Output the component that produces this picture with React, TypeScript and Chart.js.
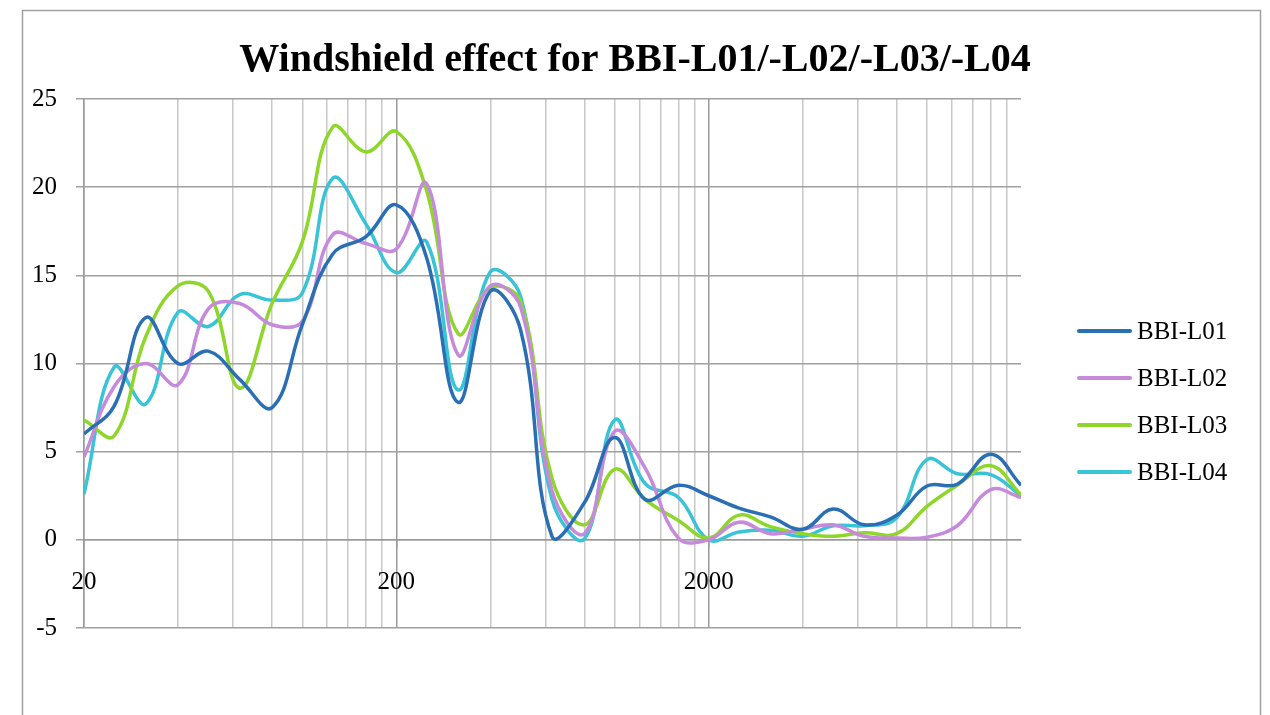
import React, { useEffect, useRef } from 'react';
import { Chart, registerables } from 'chart.js';

Chart.register(...registerables);

const chartTitle = 'Windshield effect for BBI-L01/-L02/-L03/-L04';

const frequencies = [20, 25, 31.5, 40, 50, 63, 80, 100, 125, 160, 200, 250, 315, 400, 500, 630, 800, 1000, 1250, 1600, 2000, 2500, 3150, 4000, 5000, 6300, 8000, 10000, 12500, 16000, 20000];

const bbiL01 = [6.0, 7.6, 12.6, 10.0, 10.7, 9.1, 7.5, 12.2, 16.2, 17.2, 19.0, 16.0, 7.8, 14.1, 11.9, 0.2, 2.1, 5.8, 2.3, 3.1, 2.5, 1.8, 1.3, 0.6, 1.75, 0.85, 1.4, 3.05, 3.15, 4.85, 3.1];
const bbiL02 = [4.7, 8.7, 10.0, 8.8, 13.1, 13.4, 12.2, 12.4, 17.3, 16.8, 16.5, 20.2, 10.5, 14.4, 13.2, 2.8, 0.35, 6.15, 4.1, 0.1, 0.0, 1.0, 0.35, 0.6, 0.85, 0.2, 0.1, 0.15, 0.8, 2.85, 2.4];
const bbiL03 = [6.8, 5.9, 11.5, 14.4, 14.1, 8.6, 13.4, 16.9, 23.4, 22.0, 23.15, 19.8, 11.7, 14.3, 13.5, 3.5, 0.85, 4.0, 2.3, 1.1, 0.1, 1.4, 0.75, 0.35, 0.2, 0.4, 0.35, 1.9, 3.1, 4.2, 2.55];
const bbiL04 = [2.6, 9.8, 7.7, 12.9, 12.1, 13.9, 13.6, 14.0, 20.5, 17.9, 15.15, 16.9, 8.5, 15.2, 13.8, 2.3, 0.05, 6.8, 3.2, 2.4, 0.0, 0.45, 0.55, 0.2, 0.8, 0.8, 1.25, 4.55, 3.75, 3.7, 2.5];

const seriesNames = ['BBI-L01', 'BBI-L02', 'BBI-L03', 'BBI-L04'];
const seriesValues = [bbiL01, bbiL02, bbiL03, bbiL04];
const seriesColors = ['#2A6FB4', '#C68ADB', '#8ED62A', '#38C3D7'];

// vertical gridline positions (Excel-style log minor grid) and labelled ticks
const xGridTicks = [20, 40, 60, 80, 100, 120, 140, 160, 180, 200, 400, 600, 800, 1000, 1200, 1400, 1600, 1800, 2000, 4000, 6000, 8000, 10000, 12000, 14000, 16000, 18000, 20000];
const xLabelTicks = [20, 200, 2000];
const xMajorTicks = [20, 200, 2000];
const yMin = -5;
const yMax = 25;
const yStep = 5;

const FONT = '"Liberation Serif", "Times New Roman", serif';

export default function App() {
  const ref = useRef<HTMLCanvasElement>(null);

  useEffect(() => {
    const canvas = ref.current;
    if (!canvas) return;

    const decor = {
      id: 'excelDecor',
      beforeDraw(chart: any) {
        const ctx = chart.ctx as CanvasRenderingContext2D;
        ctx.save();
        ctx.fillStyle = '#ffffff';
        ctx.fillRect(0, 0, chart.width, chart.height);
        ctx.strokeStyle = '#a0a0a0';
        ctx.lineWidth = 1.5;
        ctx.strokeRect(22.5, 10.5, 1238, 800);
        ctx.restore();
      },
      afterDraw(chart: any) {
        const ctx = chart.ctx as CanvasRenderingContext2D;
        ctx.save();
        ctx.fillStyle = '#000000';
        ctx.font = `bold 40px ${FONT}`;
        ctx.textAlign = 'center';
        ctx.textBaseline = 'alphabetic';
        ctx.fillText(chartTitle, 635, 71);

        const ds = chart.data.datasets;
        ds.forEach((d: any, i: number) => {
          const y = 331 + i * 47;
          ctx.strokeStyle = d.borderColor;
          ctx.lineWidth = 4;
          ctx.lineCap = 'round';
          ctx.beginPath();
          ctx.moveTo(1079, y);
          ctx.lineTo(1130, y);
          ctx.stroke();
          ctx.fillStyle = '#000000';
          ctx.font = `25px ${FONT}`;
          ctx.textAlign = 'left';
          ctx.textBaseline = 'middle';
          ctx.fillText(d.label, 1137, y + 1);
        });
        ctx.restore();
      },
    };

    const chart = new Chart(canvas, {
      type: 'line',
      data: {
        datasets: seriesValues.map((vals, i) => ({
          label: seriesNames[i],
          data: frequencies.map((f, j) => ({ x: f, y: vals[j] })),
          borderColor: seriesColors[i],
          backgroundColor: seriesColors[i],
          borderWidth: 3.5,
          pointRadius: 0,
          tension: 0.4,
          fill: false,
        })),
      },
      options: {
        animation: false,
        responsive: false,
        layout: { padding: { left: 0, top: 99, right: 249, bottom: 87 } },
        plugins: {
          legend: { display: false },
          title: { display: false },
          tooltip: { enabled: false },
        },
        scales: {
          x: {
            type: 'logarithmic',
            min: 20,
            max: 20000,
            position: { y: 0 } as any,
            afterBuildTicks: (scale: any) => {
              scale.ticks = xGridTicks.map((v) => ({ value: v }));
            },
            ticks: {
              autoSkip: false,
              maxRotation: 0,
              minRotation: 0,
              padding: 20,
              color: '#000000',
              font: { family: FONT, size: 25 },
              callback: (v: any) => (xLabelTicks.includes(Number(v)) ? String(v) : ''),
            },
            grid: {
              lineWidth: 1.5,
              tickLength: 8,
              color: (c: any) => {
                const v = c.tick ? c.tick.value : 0;
                if (v === 20000) return 'rgba(0,0,0,0)';
                return xMajorTicks.includes(v) ? '#9a9a9a' : '#c8c8c8';
              },
              tickColor: (c: any) => {
                const v = c.tick ? c.tick.value : 0;
                return xMajorTicks.includes(v) ? '#9a9a9a' : 'rgba(0,0,0,0)';
              },
            },
            border: { color: '#9a9a9a', width: 1.5 },
          },
          y: {
            type: 'linear',
            min: yMin,
            max: yMax,
            afterFit: (scale: any) => {
              scale.width = 84;
            },
            ticks: {
              stepSize: yStep,
              padding: 19,
              color: '#000000',
              font: { family: FONT, size: 25 },
            },
            grid: { color: '#a0a0a0', lineWidth: 1.5, tickLength: 8 },
            border: { color: '#9a9a9a', width: 1.5 },
          },
        },
      },
      plugins: [decor],
    } as any);

    return () => chart.destroy();
  }, []);

  return (
    <div style={{ position: 'absolute', left: 0, top: 0, width: 1270, height: 715 }}>
      <canvas ref={ref} width={1270} height={715} />
    </div>
  );
}
